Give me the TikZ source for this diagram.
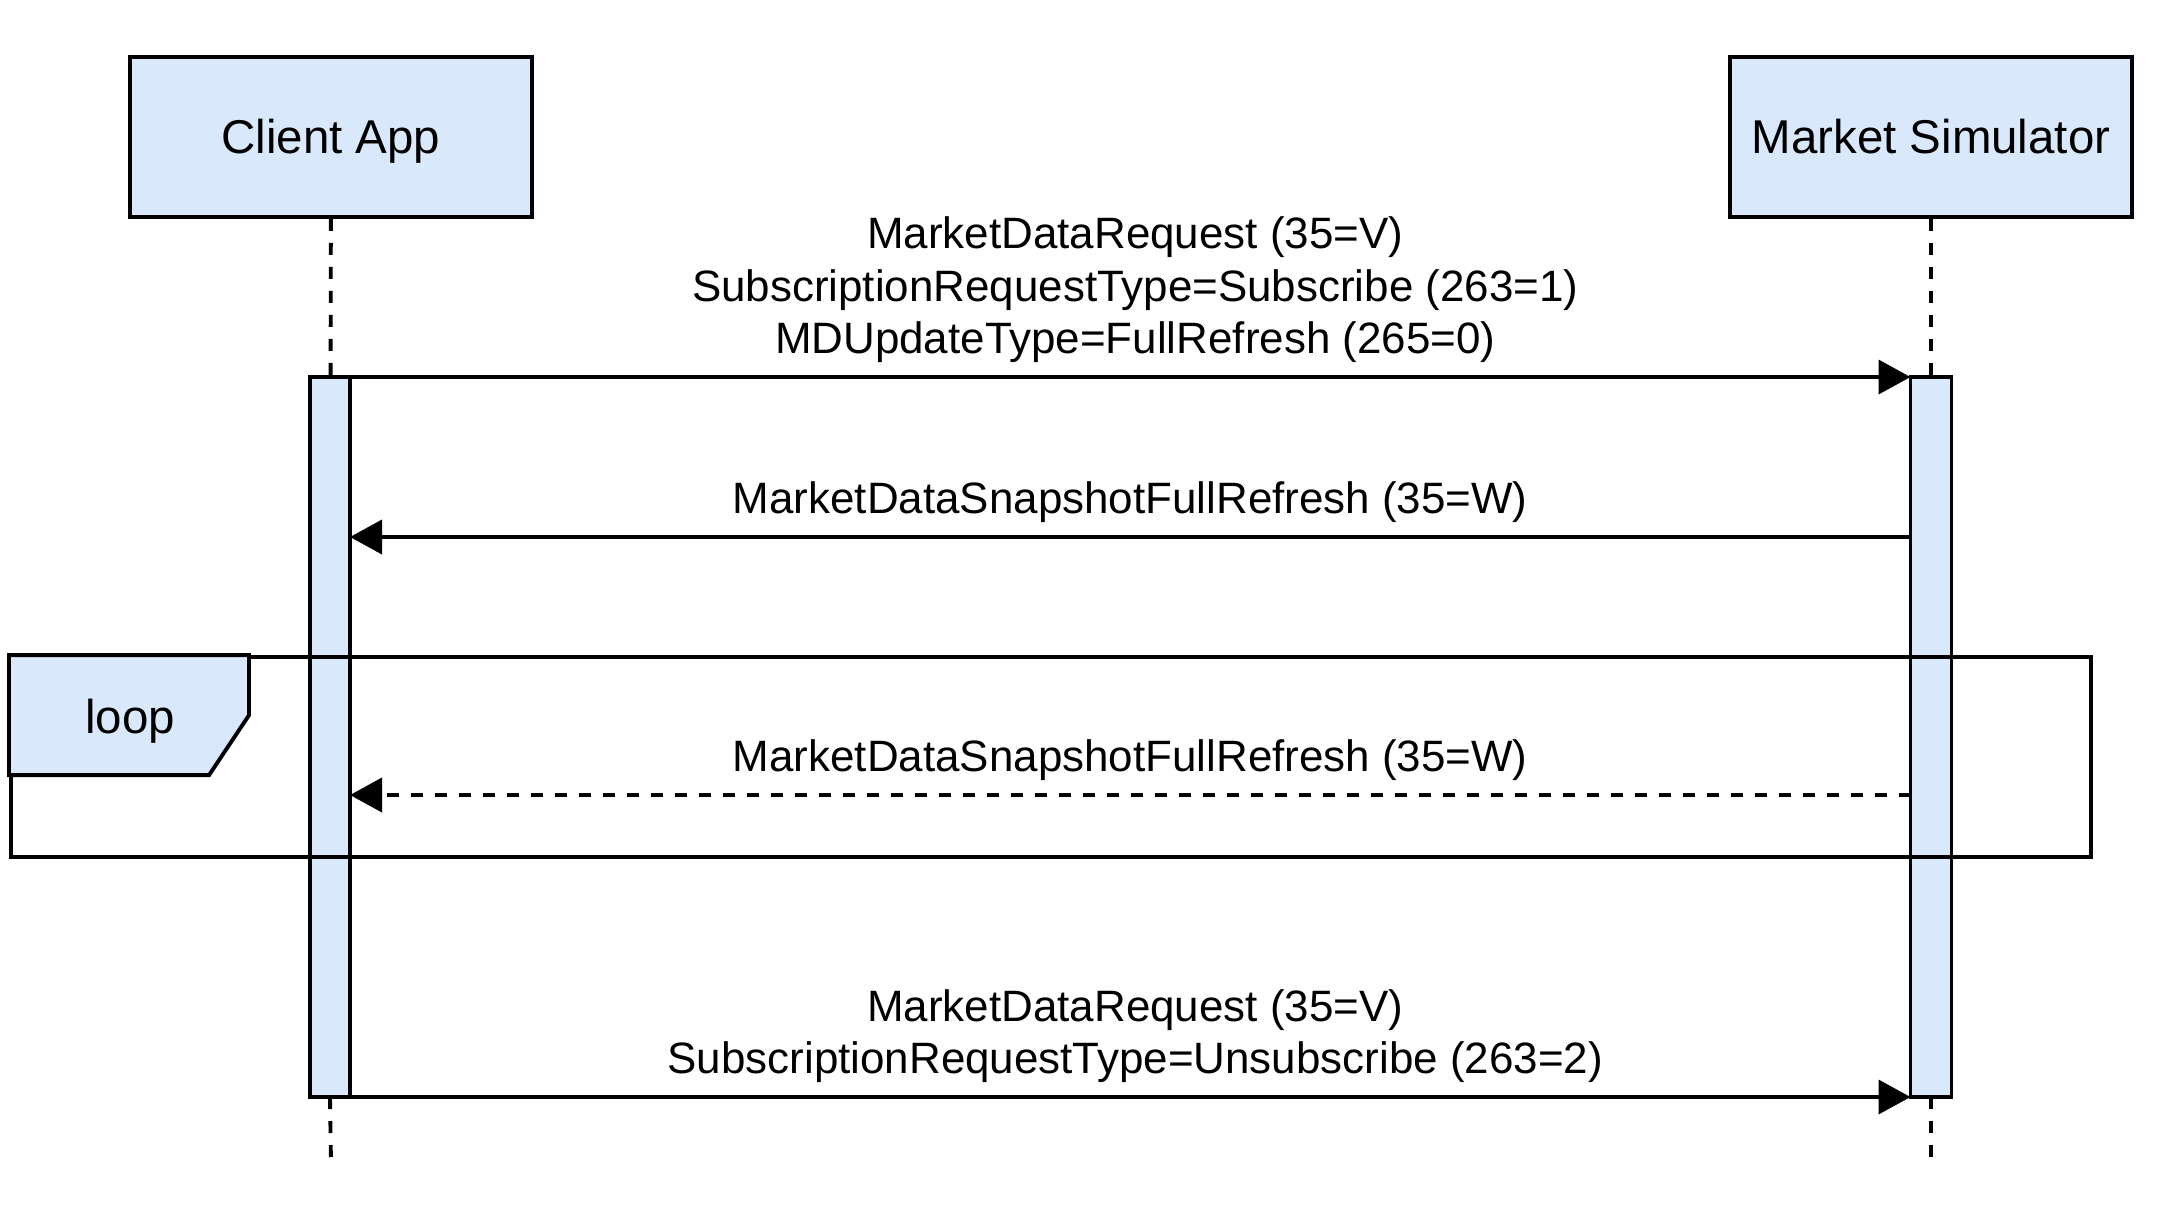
\documentclass[tikz,border=0pt]{standalone}
\usepackage{fontspec}
\setmainfont{Liberation Sans}
\usetikzlibrary{positioning,arrows.meta,calc}
\definecolor{actfill}{HTML}{DAE8FC}

\begin{document}
\begin{tikzpicture}[line width=1.1pt,
    actor/.style={draw, fill=actfill, minimum width=4.02cm, minimum
      height=1.60cm, inner sep=0, font=\fontsize{13.5}{16}\selectfont,
      text height=12.2pt, text depth=2.86pt},
    bar/.style={draw, fill=actfill, minimum width=0.40cm, minimum
      height=7.20cm, inner sep=0, outer sep=0},
    life/.style={dash pattern=on 0.12cm off 0.12cm},
    msg/.style={-{Triangle[length=0.32cm,width=0.34cm]}},
    reply/.style={msg, dash pattern=on 0.12cm off 0.12cm},
    lbl/.style={inner sep=0, outer sep=0, align=center,
      font=\fontsize{12.5}{15}\selectfont},
    tag/.style={inner sep=0, font=\fontsize{13.5}{16}\selectfont,
      text height=12.2pt, text depth=2.86pt}]
  \useasboundingbox (0,0) rectangle (21.75,-12.17);

  % participants
  \node[actor] (client) at (3.31,-1.37) {Client App};
  \node[actor] (sim) at (19.31,-1.37) {Market Simulator};

  % lifelines
  \coordinate (cend) at (3.31,-11.63);
  \coordinate (send) at (19.31,-11.63);
  \node[bar] (cbar) at (3.30,-7.37) {};
  \node[bar, minimum width=0.41cm] (sbar) at (19.31,-7.37) {};
  \draw[life] (client) -- (cbar);
  \draw[life] (cbar.south) -- (cend);
  \draw[life] (sim) -- (sbar);
  \draw[life] (sbar.south) -- (send);
  \node[bar] at (cbar) {};
  \node[bar, minimum width=0.41cm] at (sbar) {};

  % message rows
  \coordinate (r2) at (0,-5.37);
  \coordinate (r3) at (0,-7.95);

  \draw[msg] (cbar.north east) -- node[lbl, above=0.14cm, xshift=0.05cm]
    {MarketDataRequest (35=V)\\SubscriptionRequestType=Subscribe (263=1)\\MDUpdateType=FullRefresh (265=0)}
    (sbar.north west);
  \draw[msg] (sbar.west |- r2) -- node[lbl, above=0.14cm]
    {MarketDataSnapshotFullRefresh (35=W)} (cbar.east |- r2);

  % loop frame
  \node[draw, minimum width=20.80cm, minimum height=2.00cm, inner sep=0]
    (loopbox) at (10.51,-7.57) {};
  \draw[fill=actfill] (loopbox.north west) -- ++(2.40,0) -- ++(0,-0.60)
    -- ++(-0.40,-0.60) -- ($(loopbox.north west)+(0,-1.20)$) -- cycle;
  \node[tag] (looptag) at (1.30,-7.17) {loop};

  \draw[reply] (sbar.west |- r3) -- node[lbl, above=0.14cm]
    {MarketDataSnapshotFullRefresh (35=W)} (cbar.east |- r3);

  \draw[msg] (cbar.south east) -- node[lbl, above=0.14cm, xshift=0.05cm]
    {MarketDataRequest (35=V)\\SubscriptionRequestType=Unsubscribe (263=2)}
    (sbar.south west);
\end{tikzpicture}
\end{document}
